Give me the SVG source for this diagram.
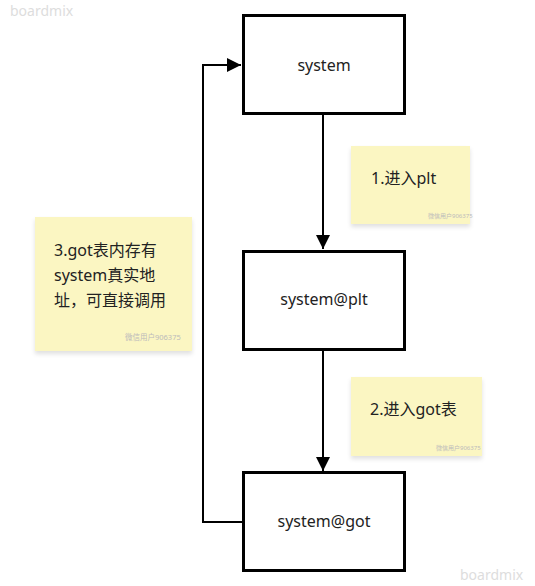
<svg xmlns="http://www.w3.org/2000/svg" width="535" height="586" viewBox="0 0 535 586">
<defs>
<style>
.box{fill:#fff;stroke:#000;stroke-width:3}
.lbl{font-family:"Noto Sans","Noto Sans CJK SC",sans-serif;font-size:16px;fill:#222;text-anchor:middle}
.st{fill:#fbf6c2}
.stt{font-family:"Noto Sans","Noto Sans CJK SC",sans-serif;font-size:16px;fill:#222}
.wm{font-family:"Noto Sans","Noto Sans CJK SC",sans-serif;font-size:6px;fill:#bbb}
.bm{font-family:"Noto Sans",sans-serif;font-size:14px;fill:#ddd}
.ln{fill:none;stroke:#000;stroke-width:2}
</style>
<marker id="ah" viewBox="0 0 10 10" refX="10" refY="5" markerWidth="7" markerHeight="7" markerUnits="strokeWidth" orient="auto">
<path d="M0,0 L10,5 L0,10 z" fill="#000"/>
</marker>
<filter id="sh" x="-10%" y="-10%" width="120%" height="130%">
<feDropShadow dx="0" dy="3" stdDeviation="2" flood-color="#000" flood-opacity="0.12"/>
</filter>
</defs>
<text class="bm" x="10" y="16">boardmix</text>
<text class="bm" x="460" y="580">boardmix</text>
<g id="connectors">
<path class="ln" d="M323,115 V249" marker-end="url(#ah)"/>
<path class="ln" d="M323,351 V471" marker-end="url(#ah)"/>
<path class="ln" d="M243,522 H203 V65 H241" marker-end="url(#ah)"/>
</g>
<g id="n1"><rect class="box" x="243.5" y="15.5" width="161" height="98"/><text class="lbl" x="324" y="71">system</text></g>
<g id="n2"><rect class="box" x="243.5" y="251.5" width="161" height="98"/><text class="lbl" x="324" y="305">system@plt</text></g>
<g id="n3"><rect class="box" x="243.5" y="472.5" width="161" height="98"/><text class="lbl" x="324" y="527">system@got</text></g>
<g id="s1"><rect class="st" x="351" y="146" width="119" height="78" filter="url(#sh)"/><text class="stt" x="371" y="184">1.进入plt</text><text class="wm" x="428" y="218">微信用户906375</text></g>
<g id="s3"><rect class="st" x="35" y="217" width="157" height="134" filter="url(#sh)"/><text class="stt" x="54" y="256">3.got表内存有</text><text class="stt" x="54" y="281">system真实地</text><text class="stt" x="54" y="306">址，可直接调用</text><text class="wm" x="125" y="340" style="font-size:7.5px">微信用户906375</text></g>
<g id="s2"><rect class="st" x="351" y="377" width="131" height="79" filter="url(#sh)"/><text class="stt" x="370" y="415">2.进入got表</text><text class="wm" x="436" y="450">微信用户906375</text></g>
</svg>
